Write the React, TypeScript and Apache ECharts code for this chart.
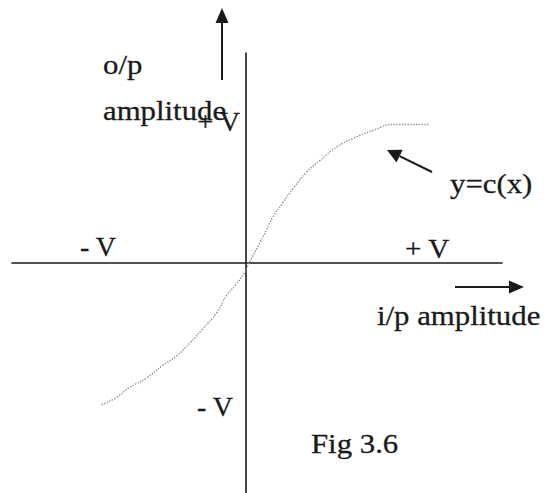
import React, { useEffect, useRef } from "react";
import * as echarts from "echarts";

// Transfer characteristic y = c(x): input amplitude vs output amplitude (units of V)
const inputAmplitude = [
  -0.9, -0.81, -0.73, -0.62, -0.52, -0.43, -0.35, -0.27, -0.18, -0.12, -0.06, -0.01,
  0.02, 0.09, 0.13, 0.17, 0.23, 0.3, 0.38, 0.46, 0.57, 0.67, 0.8, 0.92, 1.15,
];
const outputAmplitude = [
  -1.01, -0.96, -0.89, -0.82, -0.73, -0.66, -0.57, -0.47, -0.35, -0.23, -0.15, -0.07,
  0.0, 0.15, 0.24, 0.33, 0.43, 0.54, 0.65, 0.73, 0.83, 0.89, 0.95, 0.99, 0.99,
];

const xRange = [-1.46, 1.6];
const yRange = [-1.64, 1.5];

const SERIF = "Liberation Serif";
const INK = "#1a1a1a";
const FONT_SIZE = 28;

// baseline -> centre of the text box for a central vertical alignment
const mid = (baseline: number) => baseline - FONT_SIZE * 0.34;

function label(
  text: string,
  x: number,
  baseline: number,
  align: "left" | "right" = "left",
  stretch = 1.1
) {
  return {
    type: "text",
    x,
    y: mid(baseline),
    scaleX: stretch,
    scaleY: 1,
    style: {
      text,
      x: 0,
      y: 0,
      fill: INK,
      stroke: INK,
      lineWidth: 0.3,
      fontFamily: SERIF,
      fontSize: FONT_SIZE,
      align,
      textAlign: align,
      verticalAlign: "middle",
      textVerticalAlign: "middle",
    },
    silent: true,
  };
}

function arrow(x1: number, y1: number, x2: number, y2: number, headLen = 15, headHalf = 6.5) {
  const ang = Math.atan2(y2 - y1, x2 - x1);
  const bx = x2 - headLen * Math.cos(ang);
  const by = y2 - headLen * Math.sin(ang);
  const nx = -Math.sin(ang);
  const ny = Math.cos(ang);
  return [
    {
      type: "line",
      shape: { x1, y1, x2: bx, y2: by },
      style: { stroke: INK, lineWidth: 2 },
      silent: true,
    },
    {
      type: "polygon",
      shape: {
        points: [
          [x2, y2],
          [bx + nx * headHalf, by + ny * headHalf],
          [bx - nx * headHalf, by - ny * headHalf],
        ],
      },
      style: { fill: INK },
      silent: true,
    },
  ];
}

export default function App() {
  const ref = useRef<HTMLDivElement>(null);

  useEffect(() => {
    if (!ref.current) return;
    const chart = echarts.init(ref.current, undefined, { renderer: "svg" });

    const axisLine = {
      show: true,
      onZero: true,
      lineStyle: { color: INK, width: 1.6 },
    };

    chart.setOption({
      animation: false,
      backgroundColor: "#ffffff",
      grid: { left: 12, right: 43, top: 53, bottom: 0, containLabel: false },
      xAxis: {
        type: "value",
        min: xRange[0],
        max: xRange[1],
        axisLine,
        axisTick: { show: false },
        axisLabel: { show: false },
        splitLine: { show: false },
      },
      yAxis: {
        type: "value",
        min: yRange[0],
        max: yRange[1],
        axisLine,
        axisTick: { show: false },
        axisLabel: { show: false },
        splitLine: { show: false },
      },
      series: [
        {
          type: "line",
          name: "y=c(x)",
          data: inputAmplitude.map((x, i) => [x, outputAmplitude[i]]),
          smooth: true,
          symbol: "none",
          lineStyle: { color: "#909090", width: 1.4, type: "dotted" },
          silent: true,
        },
      ],
      graphic: [
        ...arrow(222, 80, 222, 8),
        ...arrow(455, 287, 524, 287),
        ...arrow(432, 172, 387, 150, 14, 7),
        label("o/p", 103, 74),
        label("amplitude", 103, 120),
        label("+ V", 240, 131, "right", 1),
        label("- V", 80, 256, "left", 1),
        label("+ V", 405, 258, "left", 1.04),
        label("y=c(x)", 450, 193),
        label("i/p amplitude", 377, 325),
        label("- V", 233, 416, "right", 1),
        label("Fig 3.6", 311, 453),
      ],
    });

    return () => chart.dispose();
  }, []);

  return (
    <div
      ref={ref}
      style={{ position: "fixed", left: 0, top: 0, width: 545, height: 493, background: "#fff" }}
    />
  );
}
